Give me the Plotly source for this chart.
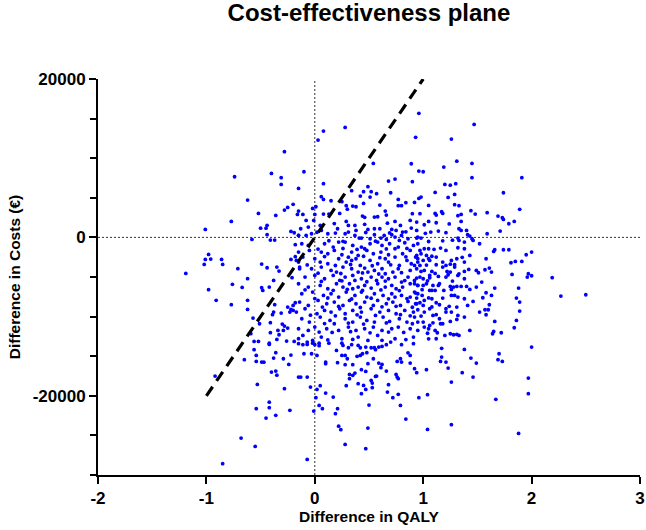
import plotly.graph_objects as go

# Bootstrap simulations: (difference in QALY, difference in costs in EUR)
sims_upper_left = [
    (-0.28, 10820), (-0.74, 7660), (-0.40, 8080), (-0.31, 7540), (-0.31, 6690), (-0.15, 6190), (-0.62, 4710),
    (-0.20, 4170), (-0.25, 3790), (-0.28, 3450), (-0.15, 3320), (-0.52, 3030), (-0.36, 2780), (-0.16, 2900),
    (-0.77, 2020), (-1.01, 1010), (-0.50, 1170), (-0.45, 1170), (-0.44, 1520), (-0.44, 340), (-0.41, -340),
    (-0.37, -340), (-0.22, 760), (-0.19, 590), (-0.15, 250), (-0.58, -250), (-0.18, -920),
]
sims_upper_mid = [
    (0.28, 13890), (0.08, 13420), (0.03, 12290), (0.96, 15660), (0.93, 12630), (-0.10, 8290), (0.54, 9340),
    (0.89, 9300), (0.96, 8370), (0.08, 6780), (0.68, 7110), (0.74, 7360), (0.90, 7030), (0.49, 6400),
    (0.34, 5900), (0.52, 5770), (0.45, 5770), (0.70, 5640), (0.57, 5520), (0.42, 5220), (0.51, 5090),
    (0.06, 5140), (0.08, 4800), (0.96, 4920), (0.15, 4630), (0.77, 4800), (0.25, 4510), (0.45, 4290),
    (0.84, 4380), (0.29, 4000), (0.35, 3950), (0.38, 3870), (0.60, 4080), (0.77, 4000), (0.80, 4000),
    (0.92, 4420), (-0.02, 3660), (0.01, 3870), (0.30, 3570), (0.65, 3320), (-0.11, 2900), (0.00, 2900),
    (0.08, 2940), (0.13, 2940), (0.23, 3030), (0.44, 2690), (0.46, 2530), (0.55, 2560), (0.58, 2610),
    (0.66, 2820), (0.90, 2990),
]
sims_upper_right = [
    (1.47, 14270), (1.26, 12410), (1.31, 9630), (1.45, 9340), (1.19, 8880), (1.00, 8290), (1.45, 7540),
    (1.91, 7540), (1.20, 6690), (1.25, 6600), (1.30, 6780), (1.74, 5640), (1.11, 5680), (0.98, 5090),
    (1.23, 5050), (1.29, 5430), (1.05, 4040), (1.29, 4130), (1.33, 4000), (1.44, 3370), (1.17, 3240),
    (1.18, 3030), (1.11, 3030), (1.12, 2820), (0.97, 2990), (1.35, 2900), (1.32, 2740), (1.48, 2940),
    (1.59, 3120), (1.69, 2690), (1.73, 2490), (1.89, 3540),
    (2.00, -4840), (2.19, -5090), (2.27, -7410), (2.50, -7240),
]
sims_mid_left = [
    (-0.98, -2150), (-1.01, -2780), (-0.96, -2740), (-1.02, -3410), (-0.86, -2780), (-0.85, -3410),
    (-1.19, -4550), (-0.71, -3950), (-0.49, -3370), (-0.44, -3830), (-0.35, -3750), (-0.33, -4250),
    (-0.22, -2780), (-0.18, -2440), (-0.15, -3120), (-0.14, -3750), (-0.62, -5210), (-0.38, -5430),
    (-0.21, -5090), (-0.76, -5930), (-0.67, -6310), (-0.49, -6350), (-0.48, -6690), (-0.42, -6270),
    (-0.98, -6600), (-0.91, -7950), (-0.77, -8500), (-0.62, -7950), (-0.62, -9090), (-0.37, -8500),
    (-0.38, -9430), (-0.31, -9560), (-0.39, -9760), (-0.25, -8800), (-0.22, -9090), (-0.20, -9220),
    (-0.23, -9430), (-0.18, -8250), (-0.20, -8590), (-0.57, -10190), (-0.51, -10900), (-0.41, -10770),
    (-0.30, -10950), (-0.28, -11200), (-0.25, -11450), (-0.34, -11740), (-0.59, -12160), (-0.41, -12030),
    (-0.33, -12290), (-0.29, -11740), (-0.56, -13130), (-0.52, -13130), (-0.42, -13350), (-0.35, -12880),
    (-0.19, -13130), (-0.15, -12790),
]
sims_lower_left = [
    (-0.56, -14180), (-0.42, -13510), (-0.26, -13090), (-0.15, -13420), (-0.54, -14900), (-0.65, -15440),
    (-0.54, -15660), (-0.49, -15740), (-0.47, -15760), (-0.36, -14560), (-0.38, -15240), (-0.29, -15320),
    (-0.22, -14860), (-0.24, -16040), (-0.92, -17510), (-0.40, -17010), (-0.36, -16880), (-0.35, -17390),
    (-0.53, -18560), (-0.28, -19100), (-0.15, -17640), (-0.42, -20800), (-0.42, -21500), (-0.54, -21630),
    (-0.23, -21840), (-0.36, -22470), (-0.45, -22810), (-0.68, -25340), (-0.55, -26390), (-0.85, -28570),
]
sims_lower_right = [
    (1.17, -14010), (1.38, -14140), (2.00, -13850), (1.17, -15110), (1.16, -15660), (1.21, -15740),
    (1.44, -15240), (1.49, -15870), (1.70, -14690), (1.69, -15440), (1.73, -15660), (0.92, -16580),
    (0.94, -17080), (1.03, -16700), (1.23, -16500), (1.36, -17080), (1.46, -17640), (1.26, -18270),
    (1.97, -17760), (1.97, -19730), (0.96, -20240), (1.04, -19860), (1.67, -20450), (1.04, -24240),
    (1.26, -23650), (1.88, -24750),
]
sims_lower_mid = [
    (-0.11, -13550), (-0.07, -13220), (-0.07, -13510), (-0.02, -13350), (0.00, -13550), (0.04, -13350),
    (0.04, -13670), (0.13, -13350), (0.25, -13350), (0.26, -13640), (0.31, -13930), (0.34, -13550),
    (0.40, -13640), (0.42, -13930), (0.47, -13850), (0.52, -13930), (0.55, -13930), (0.56, -14180),
    (0.59, -13850), (0.62, -13760), (0.66, -13550), (0.70, -13220), (0.80, -13550), (0.91, -13420),
    (-0.10, -14690), (-0.03, -14690), (0.02, -14900), (0.20, -14270), (0.25, -14900), (0.28, -14900),
    (0.30, -15320), (0.39, -15020), (0.44, -14690), (0.48, -14560), (0.54, -15320), (0.42, -14900),
    (0.10, -15740), (0.10, -15950), (0.21, -15820), (0.28, -16070), (0.35, -16070), (0.49, -15950),
    (0.59, -15870), (0.62, -16040), (0.76, -15660), (0.79, -15320), (0.80, -15740), (0.86, -14580),
    (0.88, -14900), (0.88, -15870), (0.43, -16700), (0.47, -16920), (0.61, -16450), (0.66, -16880),
    (-0.13, -17640), (-0.07, -17640), (0.32, -17300), (0.32, -17840), (0.35, -17420), (0.37, -17130),
    (0.56, -17550), (0.57, -17510), (0.52, -18060), (0.53, -18390), (0.75, -17300), (0.76, -17640),
    (0.77, -17840), (0.40, -18470), (0.29, -18720), (0.45, -18690), (0.47, -19190), (0.53, -18980),
    (0.68, -18600), (-0.04, -18900), (0.05, -18720), (0.02, -19190), (0.10, -19660), (0.43, -19730),
    (0.67, -19530), (0.77, -19820), (0.72, -20240), (0.17, -20160), (0.01, -20240), (0.04, -21210),
    (0.07, -21630), (-0.01, -21930), (0.50, -21170), (0.79, -21210), (0.21, -21630), (0.19, -22260),
    (0.84, -22940), (0.22, -23830), (0.24, -24280), (0.49, -24080), (0.28, -26140), (0.47, -26680),
    (-0.07, -28030),
]
sims_core_left = [
    (-0.08, 2147), (-0.01, 2147), (0.29, 2020), (0.74, 2020), (0.88, 2147), (0.94, 1936),
    (-0.13, 1094), (-0.06, 1305), (0.05, 1515), (0.06, 884), (0.21, 1094), (0.31, 1515), (0.37, 1515),
    (0.38, 884), (0.49, 1010), (0.55, 1094), (0.60, 1094), (0.71, 1010), (0.75, 884), (0.79, 1515),
    (0.81, 673), (0.89, 1179), (0.94, 884),
    (-0.15, 253), (-0.08, 253), (-0.03, 463), (0.12, 463), (0.28, 463), (0.31, 673), (0.37, 253),
    (0.41, -84), (0.43, -84), (0.51, -168), (0.55, 337), (0.61, -84), (0.64, 253), (0.66, -253),
    (0.71, 337), (0.74, 42), (0.80, 253), (0.86, -168), (0.94, -84),
    (-0.12, -800), (-0.06, -1010), (0.09, -800), (0.17, -1221), (0.22, -589), (0.28, -589), (0.35, -1010),
    (0.43, -1221), (0.51, -800), (0.58, -589), (0.62, -1010), (0.69, -800), (0.77, -1221), (0.83, -673),
    (0.91, -1010), (0.95, -800),
    (-0.15, -1852), (-0.05, -1642), (0.06, -1852), (0.12, -2062), (0.18, -1642), (0.25, -2189),
    (0.34, -1852), (0.40, -2273), (0.46, -1431), (0.48, -1642), (0.54, -2062), (0.61, -1852),
    (0.68, -2189), (0.74, -1431), (0.81, -2062), (0.88, -1642), (0.94, -2273),
    (-0.17, -2904), (-0.11, -2483), (0.00, -2694), (0.05, -3115), (0.12, -3325), (0.22, -2694),
    (0.29, -3115), (0.34, -2904), (0.38, -2694), (0.42, -3536), (0.51, -2904), (0.58, -3325),
    (0.65, -2694), (0.68, -3115), (0.74, -2483), (0.78, -3536), (0.85, -2904), (0.89, -3325), (0.95, -2694),
    (-0.14, -3956), (-0.03, -3956), (0.06, -3746), (0.15, -4167), (0.20, -4377), (0.26, -3746),
    (0.34, -3956), (0.40, -4377), (0.46, -3872), (0.49, -4377), (0.55, -4167), (0.62, -3956),
    (0.65, -4588), (0.72, -4377), (0.77, -3956), (0.88, -4167), (0.94, -3956),
    (-0.09, -5009), (0.00, -4798), (0.09, -5219), (0.17, -4798), (0.23, -5430), (0.28, -5009),
    (0.35, -4798), (0.37, -5430), (0.43, -5219), (0.52, -5009), (0.57, -5430), (0.62, -5009),
    (0.68, -5219), (0.74, -5009), (0.80, -5640), (0.86, -5009), (0.92, -5430),
]
sims_core_left_low = [
    (-0.15, -5851), (-0.06, -6271), (0.05, -6061), (0.12, -6482), (0.20, -5851), (0.26, -6271),
    (0.32, -5851), (0.35, -6482), (0.40, -6271), (0.46, -6061), (0.52, -6398), (0.58, -5851),
    (0.65, -6271), (0.71, -6061), (0.75, -6482), (0.81, -6271), (0.88, -5851), (0.95, -6061),
    (-0.12, -7113), (-0.02, -6903), (0.08, -7324), (0.15, -7113), (0.22, -7534), (0.29, -6903),
    (0.37, -7324), (0.43, -6903), (0.48, -7534), (0.55, -7113), (0.63, -7324), (0.71, -7113),
    (0.74, -7534), (0.80, -7324), (0.88, -7534), (0.92, -6903),
    (-0.14, -8165), (-0.06, -8586), (0.03, -7955), (0.11, -8376), (0.18, -8165), (0.26, -8586),
    (0.32, -7955), (0.38, -8376), (0.46, -8165), (0.54, -8586), (0.58, -7955), (0.66, -8376),
    (0.72, -8165), (0.79, -8586), (0.86, -8081), (0.94, -8376),
    (-0.17, -9428), (-0.09, -9007), (0.02, -9639), (0.09, -9218), (0.15, -9428), (0.23, -9007),
    (0.28, -9639), (0.35, -9218), (0.43, -9428), (0.52, -9007), (0.60, -9428), (0.68, -9218),
    (0.75, -9639), (0.83, -9218), (0.91, -9428),
    (-0.12, -10270), (-0.05, -10691), (0.05, -10060), (0.14, -10480), (0.18, -10901), (0.28, -10270),
    (0.35, -10691), (0.42, -10060), (0.48, -10480), (0.55, -10691), (0.63, -10060), (0.69, -10607),
    (0.78, -10270), (0.85, -10691), (0.92, -10060),
    (-0.15, -11533), (-0.06, -11743), (0.00, -11322), (0.11, -11533), (0.22, -11743), (0.31, -11322),
    (0.38, -11743), (0.46, -11533), (0.54, -11322), (0.62, -11743), (0.71, -11533), (0.77, -11322),
    (0.88, -11533), (0.95, -11743),
    (-0.11, -12374), (-0.02, -13006), (0.06, -12585), (0.25, -12795), (0.40, -12585), (0.49, -13006),
    (0.58, -12374), (0.74, -12795), (0.91, -12585),
]
sims_core_right = [
    (1.05, 2020), (1.12, 1852), (1.35, 2020), (1.74, 2273), (1.79, 1726), (1.84, 2020),
    (1.07, 673), (1.14, 800), (1.33, 1094), (1.35, 884), (1.40, 884), (1.41, 337), (1.43, 168),
    (1.59, 463), (1.71, 800),
    (0.95, 42), (0.98, -84), (1.32, -84), (1.33, -379), (1.38, -589), (1.45, -168), (1.46, -379),
    (1.52, -800), (1.32, -1305), (1.38, -1431),
    (0.97, -1642), (1.01, -1431), (1.05, -1431), (0.98, -2062), (1.03, -2273), (1.05, -2694),
    (1.21, -1642), (1.26, -2904), (1.31, -2694), (1.43, -2273), (1.58, -2694), (1.66, -1557),
    (1.65, -1768), (1.74, -1557), (1.79, -1557), (1.81, -3199), (1.85, -3030), (1.91, -3030),
    (1.95, -2189), (2.00, -1852),
    (0.93, -2483), (0.95, -3115), (1.00, -2904), (0.92, -3536), (0.97, -3536), (1.06, -2904),
    (1.12, -2483), (1.12, -3451), (1.18, -3115), (1.18, -3746), (1.21, -3536), (1.29, -3451),
    (1.29, -3746), (1.38, -3115), (1.42, -4041), (1.49, -4167), (1.57, -4083), (1.61, -3872),
    (1.63, -4377),
    (0.98, -4293), (1.01, -4167), (1.08, -4293), (0.94, -5135), (0.97, -5009), (1.00, -5219),
    (1.06, -4798), (1.06, -5093), (1.14, -4925), (1.22, -4293), (1.23, -4714), (1.25, -4377),
    (1.21, -5009), (1.32, -4798), (1.38, -4293), (1.38, -5219), (1.51, -4462), (1.54, -5640),
    (1.82, -4672), (1.97, -4588), (1.96, -5009),
]
sims_core_right_low = [
    (0.92, -5851), (0.95, -6061), (1.00, -6061), (1.03, -5851), (1.09, -6061), (1.14, -6061),
    (1.15, -5851), (1.06, -6692), (1.08, -6692), (1.11, -6692), (1.25, -6187), (1.28, -6271),
    (1.31, -6187), (1.26, -6566), (1.35, -6187), (1.40, -6187), (1.43, -6566), (1.49, -6271),
    (1.58, -6987), (1.66, -6398), (1.55, -7618), (1.63, -7324), (1.88, -6398), (0.93, -7029),
    (0.95, -7113), (0.99, -7324),
    (0.94, -7660), (0.97, -8250), (1.01, -7955), (1.00, -8586), (1.08, -7745), (1.12, -8250),
    (1.18, -7660), (1.15, -8502), (1.26, -7324), (1.29, -7324), (1.32, -7534), (1.38, -7745),
    (1.46, -8081), (1.31, -8797), (1.21, -9007), (1.41, -8586), (1.61, -8502), (1.89, -8165),
    (1.86, -7660), (0.93, -8376),
    (0.95, -9134), (1.01, -9428), (1.06, -9007), (0.98, -9933), (1.09, -9849), (1.15, -10270),
    (1.21, -9428), (1.26, -9428), (1.32, -9849), (1.38, -10060), (1.52, -9428), (1.57, -9134),
    (1.60, -9134), (1.58, -9765), (1.66, -10607), (1.86, -10480), (1.89, -9302), (1.00, -10691),
    (1.06, -11112), (1.05, -11533),
    (0.95, -10691), (1.16, -10901), (1.18, -10901), (1.25, -10607), (1.31, -10354), (1.01, -11322),
    (1.11, -11743), (1.13, -12038), (1.12, -12795), (1.20, -12374), (1.25, -12164), (1.28, -12290),
    (1.31, -12248), (1.33, -12374), (1.43, -11743), (1.65, -11869), (1.64, -12164), (1.72, -12038),
    (1.84, -11406),
]
# further estimated points in the densest part of the cloud
sims_core_dense = [
    (0.18, 1750), (0.46, 1650), (0.67, 1800), (1.01, 1600), (1.24, 1700),
    (0.02, 650), (0.19, 550), (0.47, 620), (0.69, 560), (0.84, 700), (1.02, 520), (1.21, 600),
    (0.13, -420), (0.26, -500), (0.56, -480), (0.78, -380), (1.05, -520), (1.18, -430), (1.27, -350),
    (0.03, -1480), (0.26, -1400), (0.39, -1520), (0.66, -1460), (0.85, -1390), (1.10, -1500), (1.16, -1350),
    (0.09, -2420), (0.31, -2500), (0.45, -2380), (0.60, -2560), (0.84, -2450), (1.08, -2380), (1.36, -2520),
    (-0.07, -3480), (0.19, -3550), (0.33, -3420), (0.53, -3580), (0.70, -3460), (1.03, -3500), (1.25, -3380),
    (0.03, -4520), (0.24, -4560), (0.44, -4480), (0.59, -4620), (0.80, -4450), (1.11, -4550), (1.33, -4600),
    (0.06, -5560), (0.25, -5480), (0.48, -5600), (0.65, -5520), (0.83, -5450), (1.04, -5480), (1.27, -5520),
    (-0.09, -6620), (0.17, -6680), (0.30, -6560), (0.44, -6700), (0.61, -6630), (0.78, -6720), (0.99, -6600),
    (1.19, -6700),
    (0.00, -7720), (0.12, -7650), (0.34, -7780), (0.52, -7680), (0.68, -7760), (0.85, -7720), (1.05, -7640),
    (0.07, -8800), (0.22, -8720), (0.42, -8850), (0.62, -8760), (0.75, -8700), (0.90, -8820), (1.08, -8780),
    (1.24, -8700),
    (-0.04, -9820), (0.19, -9900), (0.39, -9780), (0.56, -9850), (0.79, -9760), (0.88, -9900), (1.12, -9760),
    (0.09, -10880), (0.31, -10820), (0.45, -10950), (0.66, -10800), (0.90, -10900), (1.09, -10780),
    (0.04, -11950), (0.16, -12000), (0.33, -11900), (0.51, -12050), (0.68, -11950), (0.82, -12000),
    (1.04, -12100),
    (0.12, -12950), (0.35, -12880), (0.62, -13000), (0.84, -12900), (1.05, -12800),
]

# Willingness-to-pay threshold line (20,000 EUR per QALY)
wtp_qaly = [-1, 1]
wtp_cost = [-20000, 20000]

x_ticks = [-2, -1, 0, 1, 2, 3]
y_ticks = [-20000, 0, 20000]

all_sims = (sims_upper_left + sims_upper_mid + sims_upper_right + sims_mid_left + sims_lower_left
            + sims_lower_right + sims_lower_mid + sims_core_left + sims_core_left_low
            + sims_core_right + sims_core_right_low + sims_core_dense)
qaly = [p[0] for p in all_sims]
cost = [p[1] for p in all_sims]

FONT = "Liberation Sans, Arial, sans-serif"

fig = go.Figure()
fig.add_trace(go.Scatter(
    x=qaly, y=cost, mode="markers",
    marker=dict(color="#0000ff", size=3.8, line=dict(width=0)),
    hoverinfo="skip", showlegend=False,
))
fig.add_trace(go.Scatter(
    x=wtp_qaly, y=wtp_cost, mode="lines",
    line=dict(color="black", width=3.2, dash="11px,7px"),
    hoverinfo="skip", showlegend=False,
))

# dotted reference lines through the origin
fig.add_shape(type="line", x0=0, x1=0, y0=-30000, y1=20000, xref="x", yref="y",
              line=dict(color="#333333", width=1, dash="2px,2px"), layer="below")
fig.add_shape(type="line", x0=-2, x1=3, y0=0, y1=0, xref="x", yref="y",
              line=dict(color="#333333", width=1, dash="2px,2px"), layer="below")

fig.update_layout(
    template="none",
    width=646, height=530,
    margin=dict(l=98, r=6, t=79, b=55, autoexpand=False),
    paper_bgcolor="white", plot_bgcolor="white",
    font=dict(family=FONT, color="black", size=17, weight="bold"),
    title=dict(text="Cost-effectiveness plane", x=0.5, xref="paper", xanchor="center",
               y=0.993, yref="container", yanchor="top", automargin=False,
               font=dict(family=FONT, size=24, color="black", weight="bold")),
    xaxis=dict(
        automargin=False,
        range=[-2, 3], tickmode="array", tickvals=x_ticks, ticktext=[str(v) for v in x_ticks],
        showgrid=False, zeroline=False, showline=True, linecolor="black", linewidth=2,
        ticks="outside", ticklen=7, tickwidth=2, tickcolor="black",
        tickfont=dict(family=FONT, size=17, color="black", weight="bold"),
        title=dict(text="Difference in QALY", standoff=3,
                   font=dict(family=FONT, size=15.5, color="black", weight="bold")),
    ),
    yaxis=dict(
        automargin=False,
        range=[-30000, 20000], tickmode="array", tickvals=y_ticks, ticktext=[str(v) for v in y_ticks],
        showgrid=False, zeroline=False, showline=True, linecolor="black", linewidth=2,
        ticks="outside", ticklen=7, tickwidth=2, tickcolor="black",
        minor=dict(tickmode="linear", tick0=0, dtick=5000, ticks="outside", ticklen=6,
                   tickwidth=2, tickcolor="black", showgrid=False),
        tickfont=dict(family=FONT, size=17, color="black", weight="bold"),
        title=dict(text="Difference in Costs (€)", standoff=8,
                   font=dict(family=FONT, size=15.5, color="black", weight="bold")),
    ),
)

# the page's default 8px body margin would shift the whole figure; remove it
fig.write_html("out.html", config={"displayModeBar": False},
               post_script="document.body.style.margin='0px';")
